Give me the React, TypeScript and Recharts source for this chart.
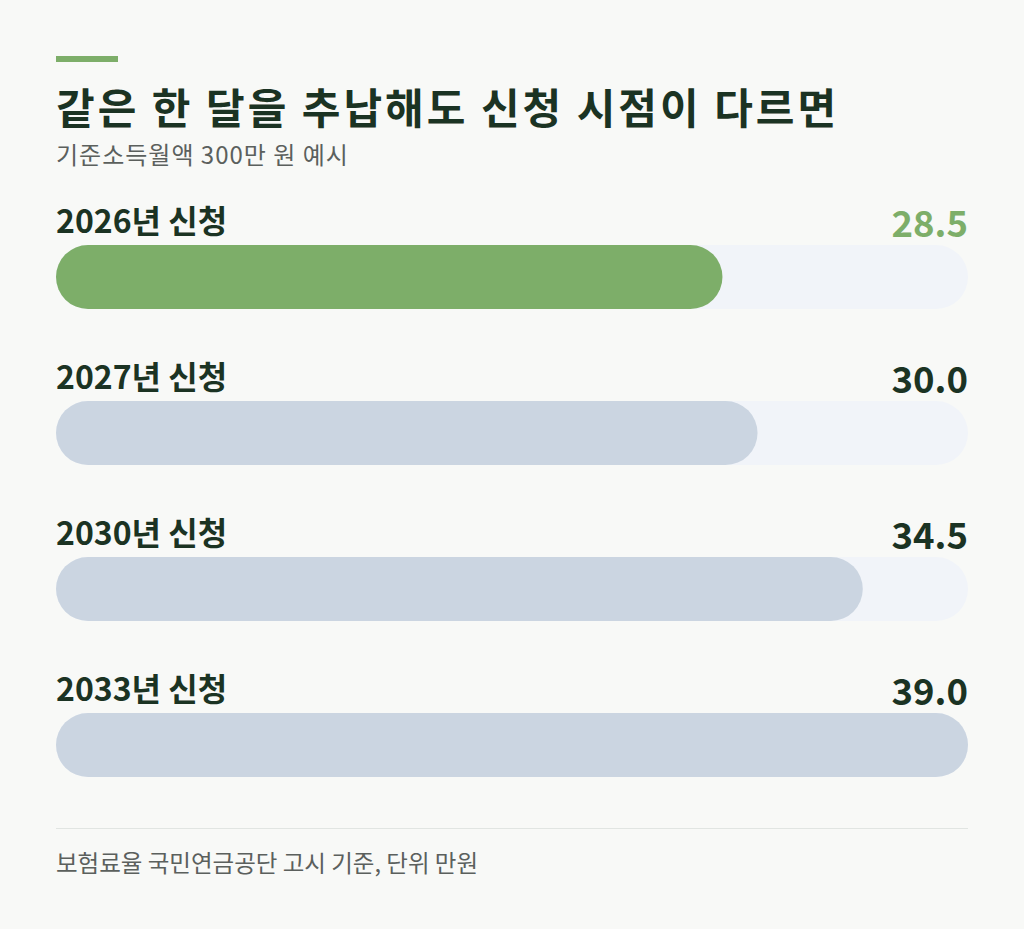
import React from "react";
import { BarChart, Bar, XAxis, YAxis, Cell, LabelList } from "recharts";

const categories = ["2026년 신청", "2027년 신청", "2030년 신청", "2033년 신청"];
const values = [28.5, 30.0, 34.5, 39.0];
const highlight = [true, false, false, false];
const valueLabels = ["28.5", "30.0", "34.5", "39.0"];

const title = "같은 한 달을 추납해도 신청 시점이 다르면";
const subtitle = "기준소득월액 300만 원 예시";
const footnote = "보험료율 국민연금공단 고시 기준, 단위 만원";

const data = categories.map((name, i) => ({
  name,
  value: values[i],
  label: valueLabels[i],
  hl: highlight[i],
}));

const FONT = "'Noto Sans CJK KR', 'Noto Sans', sans-serif";
const GREEN = "#7dae69";
const DARK = "#1b3323";
const GREY_BAR = "#cbd5e1";
const TRACK = "#f1f4f9";
const BG = "#f8f9f7";
const W = 1024;
const H = 929;
const SIDE = 56;

const RowLabel = (props: any) => {
  const { x, y, index } = props;
  const d = data[index];
  return (
    <g>
      <text
        x={x}
        y={y - 12}
        fill={DARK}
        fontFamily={FONT}
        fontSize={32}
        fontWeight={700}
        textAnchor="start"
      >
        {d.name}
      </text>
      <text
        x={W - SIDE}
        y={y - 8}
        fill={d.hl ? GREEN : DARK}
        fontFamily={FONT}
        fontSize={36.5}
        fontWeight={700}
        textAnchor="end"
      >
        {d.label}
      </text>
    </g>
  );
};

export default function App() {
  return (
    <div
      style={{
        position: "absolute",
        left: 0,
        top: 0,
        width: W,
        height: H,
        background: BG,
        fontFamily: FONT,
        overflow: "hidden",
      }}
    >
      <div
        style={{
          position: "absolute",
          left: 56,
          top: 56,
          width: 62,
          height: 6,
          background: GREEN,
        }}
      />
      <div
        style={{
          position: "absolute",
          left: 56,
          top: 82,
          fontSize: 42,
          fontWeight: 700,
          color: DARK,
          whiteSpace: "nowrap",
          lineHeight: "48px",
          letterSpacing: 3,
        }}
      >
        {title}
      </div>
      <div
        style={{
          position: "absolute",
          left: 56,
          top: 139,
          fontSize: 24,
          color: "#5b605d",
          whiteSpace: "nowrap",
          lineHeight: "30px",
          letterSpacing: 1,
        }}
      >
        {subtitle}
      </div>
      <div style={{ position: "absolute", left: 0, top: 0 }}>
        <BarChart
          width={W}
          height={H}
          data={data}
          layout="vertical"
          margin={{ top: 199, right: SIDE, bottom: 106, left: SIDE }}
        >
          <XAxis type="number" domain={[0, 39]} hide />
          <YAxis type="category" dataKey="name" hide />
          <Bar
            dataKey="value"
            barSize={64}
            radius={32}
            background={{ fill: TRACK, radius: 32 } as any}
            isAnimationActive={false}
          >
            {data.map((d, i) => (
              <Cell key={i} fill={d.hl ? GREEN : GREY_BAR} />
            ))}
            <LabelList dataKey="value" content={RowLabel} />
          </Bar>
        </BarChart>
      </div>
      <div
        style={{
          position: "absolute",
          left: 56,
          top: 828,
          width: 912,
          height: 1,
          background: "#e1e5e2",
        }}
      />
      <div
        style={{
          position: "absolute",
          left: 56,
          top: 846,
          fontSize: 23.5,
          color: "#5b605d",
          whiteSpace: "nowrap",
          lineHeight: "32px",
        }}
      >
        {footnote}
      </div>
    </div>
  );
}
